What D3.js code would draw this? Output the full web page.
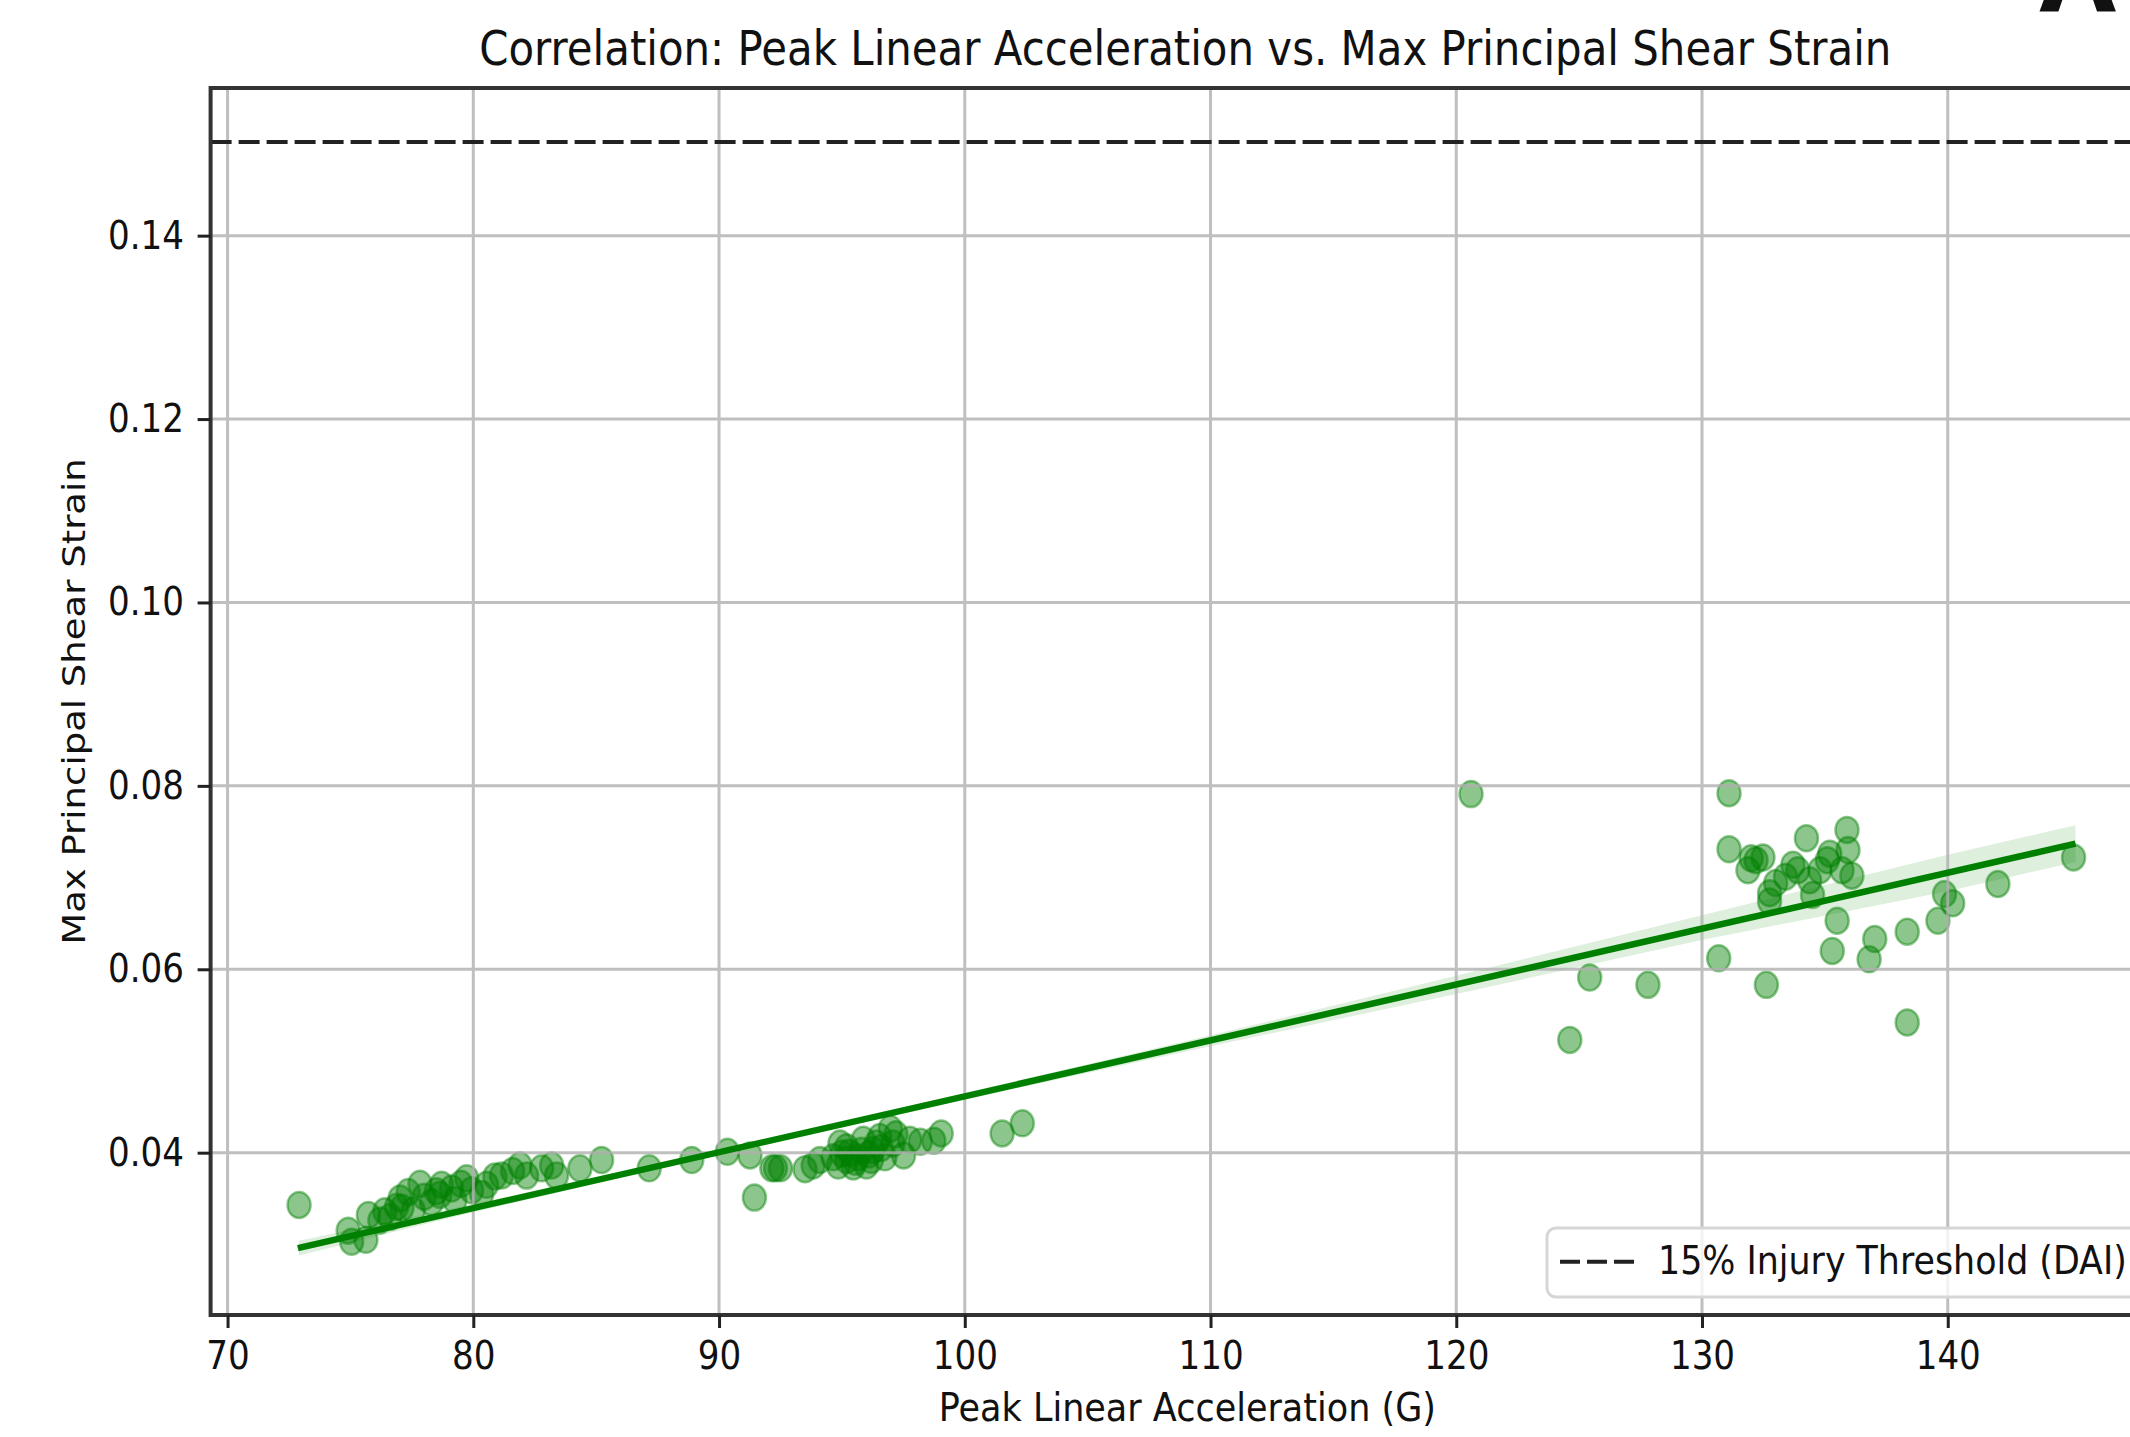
<!DOCTYPE html>
<html>
<head>
<meta charset="utf-8">
<script src="https://cdn.jsdelivr.net/npm/d3@7"></script>
<style>
  body { margin: 0; background: #fff; }
  text { font-family: "DejaVu Sans", sans-serif; fill: #111; }
</style>
</head>
<body>
<div id="chart"></div>
<script>
// Canvas size
const width = 2130, height = 1437;

// Scatter data: peak linear acceleration (G) and max principal shear strain
const accel = [
  72.91, 74.91, 75.05, 75.63, 75.73, 76.2, 76.4, 76.61, 76.88, 77.02, 77.1, 77.35, 77.56, 77.83,
  78.0, 78.3, 78.5, 78.64, 78.71, 79.12, 79.25, 79.5, 79.73, 79.93, 80.34, 80.54, 80.88, 81.15,
  81.6, 81.9, 82.17, 82.78, 83.19, 83.39, 84.34, 85.22, 87.16, 88.89, 90.34, 91.26, 91.44,
  92.15, 92.3, 92.5, 93.5, 93.83, 94.1, 94.64, 94.85, 94.92, 95.0, 95.19, 95.19, 95.3,
  95.46, 95.55, 95.66, 95.8, 95.87, 96.0, 96.1, 96.2, 96.27, 96.4, 96.54, 96.6, 96.75, 96.97, 97.08,
  97.2, 97.51, 97.76, 98.19, 98.74, 99.04, 101.52, 102.34,
  120.6, 124.62, 125.43, 127.8, 130.68, 131.1, 131.1, 131.87, 132.0, 132.2, 132.48,
  132.62, 132.75, 132.75, 133.0, 133.4, 133.7, 133.9, 134.25, 134.38, 134.5, 134.8,
  135.1, 135.2, 135.3, 135.5, 135.7, 135.9, 135.94, 136.1, 136.8, 137.03, 138.35,
  138.35, 139.6, 139.87, 140.2, 142.04, 145.12
];
const strain = [
  0.0343, 0.0315, 0.0303, 0.0305, 0.0332, 0.0326, 0.0336, 0.0330, 0.0341, 0.0350, 0.0340, 0.0357, 0.0337, 0.0366,
  0.0352, 0.0346, 0.0358, 0.0354, 0.0365, 0.0361, 0.0348, 0.0366, 0.0372, 0.0359, 0.0355, 0.0365, 0.0374, 0.0375,
  0.0380, 0.0386, 0.0375, 0.0383, 0.0386, 0.0375, 0.0383, 0.0392, 0.0383, 0.0392, 0.0401, 0.0397, 0.0351,
  0.0383, 0.0383, 0.0383, 0.0382, 0.0386, 0.0392, 0.0395, 0.0386, 0.0410, 0.0399, 0.0406, 0.0392, 0.0400,
  0.0385, 0.0390, 0.0395, 0.0402, 0.0414, 0.0386, 0.0398, 0.0392, 0.0403, 0.0410, 0.0417, 0.0405, 0.0395, 0.0426, 0.0410,
  0.0420, 0.0397, 0.0414, 0.0412, 0.0413, 0.0421, 0.0421, 0.0432,
  0.0791, 0.0523, 0.0591, 0.0583, 0.0612, 0.0792, 0.0731, 0.0708, 0.0721, 0.0719, 0.0722,
  0.0583, 0.0683, 0.0674, 0.0694, 0.0701, 0.0714, 0.0708, 0.0743, 0.0697, 0.0681, 0.0708,
  0.0719, 0.0726, 0.0620, 0.0653, 0.0708, 0.0752, 0.0730, 0.0702, 0.0611, 0.0633, 0.0641,
  0.0542, 0.0653, 0.0682, 0.0672, 0.0693, 0.0722
];

// Regression line and its confidence band
const fitX = [72.86, 145.2];
const fitY = [0.0296, 0.0737];
const bandX = [72.9, 80, 90, 100, 110, 120, 130, 140, 145.2];
const bandLow = [0.0288, 0.0335, 0.0398, 0.0458, 0.0516, 0.0573, 0.0632, 0.0685, 0.0717];
const bandHigh = [0.0304, 0.0344, 0.0403, 0.0465, 0.0528, 0.0593, 0.0659, 0.0725, 0.0757];

// Injury threshold
const threshold = 0.15;
const thresholdLabel = "15% Injury Threshold (DAI)";

// Ticks
const xTicks = [70, 80, 90, 100, 110, 120, 130, 140];
const yTicks = [0.04, 0.06, 0.08, 0.10, 0.12, 0.14];

// The picture is squeezed horizontally a little
const squeeze = 0.88;
const green = "#008000";

const svg = d3.select("#chart").append("svg")
  .attr("width", width)
  .attr("height", height);

svg.append("rect").attr("width", width).attr("height", height).attr("fill", "#fff");

const plot = {left: 210.6, right: 2164, top: 88, bottom: 1315};

const x = d3.scaleLinear().domain([69.31, 148.8]).range([plot.left, plot.right]);
const y = d3.scaleLinear().domain([0.0223, 0.1561]).range([plot.bottom, plot.top]);

// === Scatter points ===
svg.append("g")
  .selectAll("ellipse")
  .data(accel)
  .enter()
  .append("ellipse")
  .attr("cx", d => x(d))
  .attr("cy", (d, i) => y(strain[i]))
  .attr("rx", 11.5)
  .attr("ry", 13)
  .attr("fill", green)
  .attr("fill-opacity", 0.45)
  .attr("stroke", green)
  .attr("stroke-opacity", 0.45)
  .attr("stroke-width", 2.5);

// === Confidence band ===
const band = d3.area()
  .x((d, i) => x(bandX[i]))
  .y0((d, i) => y(bandLow[i]))
  .y1((d, i) => y(bandHigh[i]));

svg.append("path")
  .datum(bandX)
  .attr("d", band)
  .attr("fill", green)
  .attr("fill-opacity", 0.13);

// === Grid ===
const grid = svg.append("g").attr("stroke", "#b0b0b0").attr("stroke-width", 3).attr("opacity", 0.8);
grid.selectAll(".vgrid")
  .data(xTicks)
  .enter()
  .append("line")
  .attr("x1", d => x(d)).attr("x2", d => x(d))
  .attr("y1", plot.top).attr("y2", plot.bottom);
grid.selectAll(".hgrid")
  .data(yTicks)
  .enter()
  .append("line")
  .attr("x1", plot.left).attr("x2", plot.right)
  .attr("y1", d => y(d)).attr("y2", d => y(d));

// === Regression line ===
svg.append("path")
  .datum(fitX)
  .attr("d", d3.line().x(d => x(d)).y((d, i) => y(fitY[i])))
  .attr("fill", "none")
  .attr("stroke", green)
  .attr("stroke-width", 6.5);

// === Threshold line ===
svg.append("line")
  .attr("x1", plot.left).attr("x2", plot.right)
  .attr("y1", y(threshold) - 2).attr("y2", y(threshold) - 2)
  .attr("stroke", "#222")
  .attr("stroke-width", 4)
  .attr("stroke-dasharray", "21,7");

// === Spines ===
const spines = svg.append("g").attr("stroke", "#333").attr("stroke-width", 4).attr("fill", "none");
spines.append("rect")
  .attr("x", plot.left).attr("y", plot.top)
  .attr("width", plot.right - plot.left)
  .attr("height", plot.bottom - plot.top);

// === Axes ===
const xAxis = svg.append("g")
  .attr("transform", `translate(0, ${plot.bottom})`)
  .call(d3.axisBottom(x).tickValues(xTicks).tickSize(13).tickPadding(13.5).tickFormat(d3.format("d")));
xAxis.select(".domain").remove();
xAxis.selectAll(".tick line").attr("stroke", "#222").attr("stroke-width", 3);
xAxis.selectAll(".tick text")
  .attr("font-size", 38.8)
  .attr("font-family", "DejaVu Sans")
  .attr("fill", "#111")
  .attr("transform", `scale(${squeeze},1)`);

const yAxis = svg.append("g")
  .attr("transform", `translate(${plot.left}, 0)`)
  .call(d3.axisLeft(y).tickValues(yTicks).tickSize(13).tickFormat(d3.format(".2f")));
yAxis.select(".domain").remove();
yAxis.selectAll(".tick line").attr("stroke", "#222").attr("stroke-width", 3);
yAxis.selectAll(".tick text")
  .attr("font-size", 38.8)
  .attr("font-family", "DejaVu Sans")
  .attr("fill", "#111")
  .attr("x", -26.6 / squeeze)
  .attr("transform", `scale(${squeeze},1)`);

// === Labels ===
const midX = (plot.left + plot.right) / 2;

svg.append("text")
  .attr("transform", `translate(${midX - 2}, 65) scale(${squeeze},1)`)
  .attr("text-anchor", "middle")
  .attr("font-size", 47.6)
  .text("Correlation: Peak Linear Acceleration vs. Max Principal Shear Strain");

svg.append("text")
  .attr("transform", `translate(${midX}, 1421) scale(${squeeze},1)`)
  .attr("text-anchor", "middle")
  .attr("font-size", 39.8)
  .text("Peak Linear Acceleration (G)");

svg.append("text")
  .attr("transform", `translate(85, ${(plot.top + plot.bottom) / 2}) scale(${squeeze},1) rotate(-90)`)
  .attr("text-anchor", "middle")
  .attr("font-size", 37)
  .text("Max Principal Shear Strain");

// Panel letter, mostly cropped off the top
svg.append("text")
  .attr("x", 2039)
  .attr("y", 11)
  .attr("font-size", 100)
  .attr("font-weight", "bold")
  .attr("fill", "#000")
  .text("A");

// === Legend ===
const legend = svg.append("g");
legend.append("rect")
  .attr("x", 1547).attr("y", 1228)
  .attr("width", 600).attr("height", 69)
  .attr("rx", 9)
  .attr("fill", "#fff").attr("fill-opacity", 0.8)
  .attr("stroke", "#d6d6d6").attr("stroke-width", 3);
legend.append("line")
  .attr("x1", 1560).attr("x2", 1634)
  .attr("y1", 1261.7).attr("y2", 1261.7)
  .attr("stroke", "#222").attr("stroke-width", 4)
  .attr("stroke-dasharray", "20,7");
legend.append("text")
  .attr("transform", `translate(1658, 1274) scale(${squeeze},1)`)
  .attr("font-size", 39.6)
  .text(thresholdLabel);
</script>
</body>
</html>
